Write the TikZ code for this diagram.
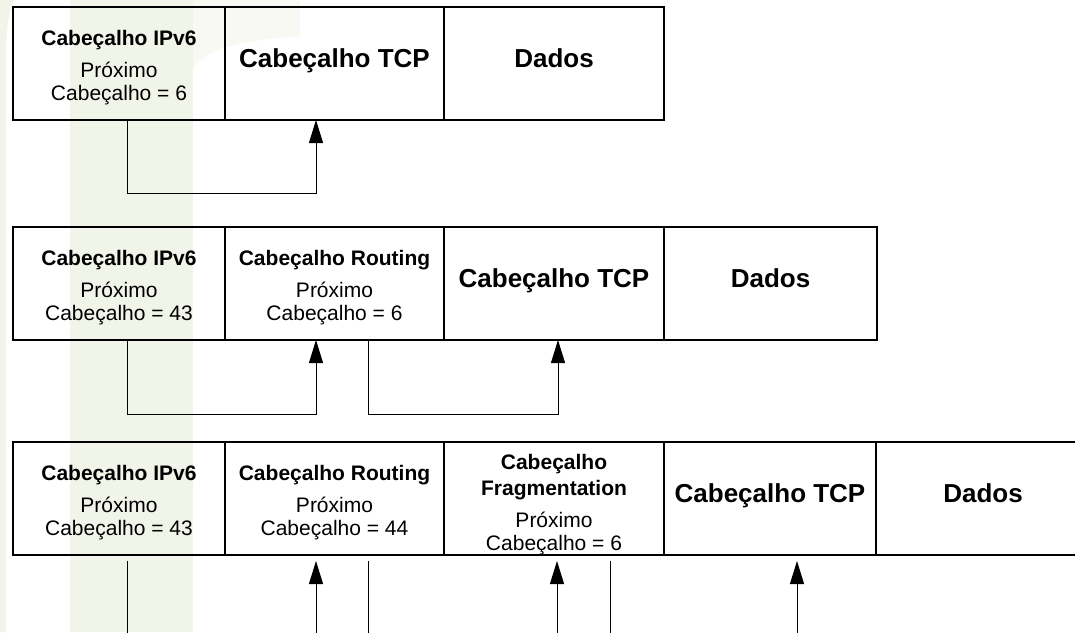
\documentclass[tikz,border=0pt]{standalone}
\usepackage{fontspec}
\setmainfont{Liberation Sans}
\usetikzlibrary{positioning,arrows.meta}
\definecolor{marca}{RGB}{241,244,232}
\newcommand{\prox}[2]{\textbf{\rule{0pt}{23pt}#1}\\[9pt]Próximo\\Cabeçalho = #2}

\begin{document}
\begin{tikzpicture}[x=1pt,y=-1pt,
  cell/.style={draw,line width=1.3pt,minimum height=113pt,inner sep=0pt,outer sep=0pt,align=center,font=\fontsize{21}{23}\selectfont},
  big/.style={font=\fontsize{26}{30}\selectfont\bfseries,text depth=10pt},
  link/.style={line width=0.9pt},
  seta/.style={link,-{Triangle[length=23pt,width=14pt]}}]
\clip (0,0) rectangle (1075,632);
\fill[marca!55] (193,0) -- (300,0) -- (300,36) .. controls (250,40) and (205,46) .. (193,70) -- cycle;
\fill[marca] (70,632) -- (70,0) -- (193,0) -- (193,632) -- cycle;
\fill[marca] (0,632) -- (0,0) -- (14,0) .. controls (8,15) and (6,30) .. (6,60) -- (6,632) -- cycle;

\node[cell,minimum width=212pt,anchor=north west] (ipvA) at (13,7) {\prox{Cabeçalho IPv6}{6}};
\node[cell,big,minimum width=219pt,right=0pt of ipvA] (tcpA) {Cabeçalho TCP};
\node[cell,big,minimum width=220pt,right=0pt of tcpA] (dadosA) {Dados};

\node[cell,minimum width=212pt,anchor=north west] (ipvB) at (13,227) {\prox{Cabeçalho IPv6}{43}};
\node[cell,minimum width=219pt,right=0pt of ipvB] (rotB) {\prox{Cabeçalho Routing}{6}};
\node[cell,big,minimum width=220pt,right=0pt of rotB] (tcpB) {Cabeçalho TCP};
\node[cell,big,minimum width=213pt,right=0pt of tcpB] (dadosB) {Dados};

\node[cell,minimum width=212pt,anchor=north west] (ipvC) at (13,442) {\prox{Cabeçalho IPv6}{43}};
\node[cell,minimum width=219pt,right=0pt of ipvC] (rotC) {\prox{Cabeçalho Routing}{44}};
\node[cell,minimum width=220pt,right=0pt of rotC] (fragC) {\textbf{\rule{0pt}{27pt}Cabeçalho}\\[3pt]\textbf{Fragmentation}\\[9pt]Próximo\\Cabeçalho = 6};
\node[cell,big,minimum width=212pt,right=0pt of fragC] (tcpC) {Cabeçalho TCP};
\node[cell,big,minimum width=214pt,right=0pt of tcpC] (dadosC) {Dados};

\coordinate (dobraA1) at (127,193);
\coordinate (dobraA2) at (316,193);
\draw[seta] (ipvA.south -| dobraA1) -- (dobraA1) -- (dobraA2) -- (tcpA.south -| dobraA2);

\coordinate (dobraB1) at (127,414);
\coordinate (dobraB2) at (316,414);
\coordinate (dobraB3) at (368,414);
\coordinate (dobraB4) at (558,414);
\draw[seta] (ipvB.south -| dobraB1) -- (dobraB1) -- (dobraB2) -- (rotB.south -| dobraB2);
\draw[seta] (rotB.south -| dobraB3) -- (dobraB3) -- (dobraB4) -- (tcpB.south -| dobraB4);

\coordinate (peC1) at (127,640);
\coordinate (peC2) at (316,640);
\coordinate (peC3) at (368,640);
\coordinate (peC4) at (557,640);
\coordinate (peC5) at (610,640);
\coordinate (peC6) at (797,640);
\draw[link,shorten <=6pt] (ipvC.south -| peC1) -- (peC1);
\draw[seta,shorten >=6pt] (peC2) -- (rotC.south -| peC2);
\draw[link,shorten <=6pt] (rotC.south -| peC3) -- (peC3);
\draw[seta,shorten >=6pt] (peC4) -- (fragC.south -| peC4);
\draw[link,shorten <=6pt] (fragC.south -| peC5) -- (peC5);
\draw[seta,shorten >=6pt] (peC6) -- (tcpC.south -| peC6);
\end{tikzpicture}
\end{document}
